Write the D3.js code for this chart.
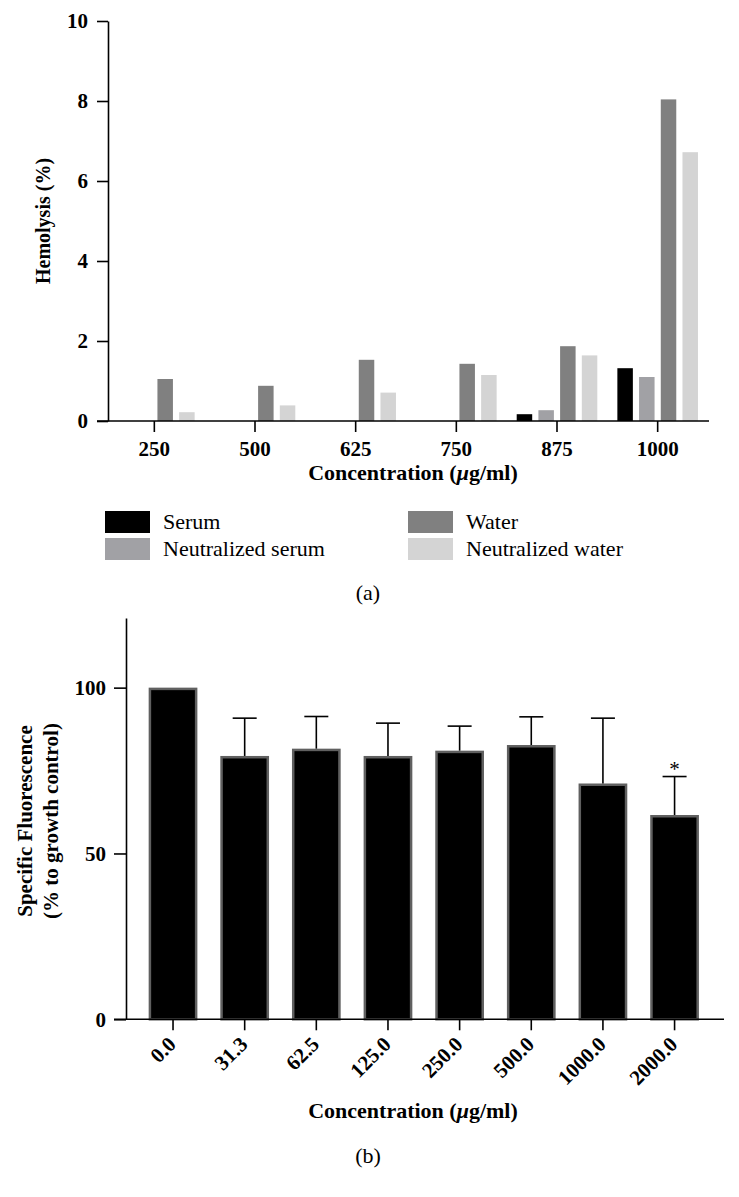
<!DOCTYPE html>
<html><head><meta charset="utf-8">
<script src="https://cdn.jsdelivr.net/npm/d3@7"></script>
<style>
body{margin:0;background:#fff;}
svg{display:block;}
text{font-family:"Liberation Serif","Times New Roman",serif;}
</style></head>
<body><svg id="c" width="739" height="1197"></svg>
<script>
// ---- Panel (a) data ----
const concA = ["250","500","625","750","875","1000"];
const seriesA = ["Serum","Neutralized serum","Water","Neutralized water"];
const serum = [0,0,0,0,0.17,1.32];
const neutralizedSerum = [0,0,0,0,0.27,1.10];
const water = [1.05,0.88,1.53,1.43,1.87,8.04];
const neutralizedWater = [0.22,0.39,0.71,1.15,1.64,6.72];
const colorsA = ["#000000","#a1a1a5","#808080","#d4d4d4"];
const ticksA = [0,2,4,6,8,10];

// ---- Panel (b) data ----
const concB = ["0.0","31.3","62.5","125.0","250.0","500.0","1000.0","2000.0"];
const meanB = [100,79.4,81.6,79.4,81.0,82.7,71.1,61.6];
const sdB = [0,11.4,9.7,9.9,7.4,8.5,19.7,11.6];
const sigB = ["","","","","","","","*"];
const ticksB = [0,50,100];

const svg = d3.select("#c");
const F = "Liberation Serif, Times New Roman, serif";

// ===== Panel A =====
(function(){
  const valsA = [serum, neutralizedSerum, water, neutralizedWater];
  const y = d3.scaleLinear().domain([0,10]).range([421,21]);
  const x = d3.scaleBand().domain(concA).range([104,708]).padding(0);
  const xs = d3.scaleBand().domain(seriesA).range([-40.3,40.3]).paddingInner(0.286).paddingOuter(0);
  const g = svg.append("g");
  concA.forEach((c,i)=>{
    const cx = x(c)+x.bandwidth()/2;
    seriesA.forEach((s,j)=>{
      const v = valsA[j][i];
      if(v<=0) return;
      g.append("rect").attr("x",cx+xs(s)).attr("width",xs.bandwidth())
        .attr("y",y(v)).attr("height",y(0)-y(v)).attr("fill",colorsA[j]);
    });
  });
  const ya = g.append("g").attr("transform","translate(108,0)")
    .call(d3.axisLeft(y).tickValues(ticksA).tickSize(11).tickPadding(9).tickSizeOuter(0));
  ya.select(".domain").attr("stroke","#000").attr("stroke-width",1.6);
  ya.selectAll(".tick line").attr("stroke-width",1.6);
  ya.selectAll("text").attr("font-family",F).attr("font-weight","bold").attr("font-size",21).attr("fill","#000");
  const xa = g.append("g").attr("transform","translate(0,421)")
    .call(d3.axisBottom(x).tickSize(11).tickPadding(9).tickSizeOuter(0));
  xa.select(".domain").attr("d","M97,0H709").attr("stroke-width",1.6);
  xa.selectAll(".tick line").attr("stroke-width",1.6);
  xa.selectAll("text").attr("font-family",F).attr("font-weight","bold").attr("font-size",21).attr("fill","#000");
  g.append("text").attr("transform","translate(50,221) rotate(-90)").attr("text-anchor","middle")
    .attr("font-weight","bold").attr("font-size",20).text("Hemolysis (%)");
  const t = g.append("text").attr("x",413).attr("y",480).attr("text-anchor","middle")
    .attr("font-weight","bold").attr("font-size",22);
  t.append("tspan").text("Concentration (");
  t.append("tspan").attr("font-style","italic").text("\u03bc");
  t.append("tspan").text("g/ml)");
  const lp = [[105,511],[105,538],[408,511],[408,538]];
  seriesA.forEach((s,j)=>{
    g.append("rect").attr("x",lp[j][0]).attr("y",lp[j][1]).attr("width",45).attr("height",22).attr("fill",colorsA[j]);
    g.append("text").attr("x",lp[j][0]+58).attr("y",lp[j][1]+18).attr("font-size",22).text(s);
  });
  g.append("text").attr("x",368).attr("y",600).attr("text-anchor","middle").attr("font-size",22).text("(a)");
})();

// ===== Panel B =====
(function(){
  const y = d3.scaleLinear().domain([0,121]).range([1019.3,618]);
  const x = d3.scaleBand().domain(concB).range([137.2,710.4]).paddingInner(0.32).paddingOuter(0.16);
  const g = svg.append("g");
  const bw = x.bandwidth();
  concB.forEach((c,i)=>{
    const bx = x(c), v = meanB[i];
    g.append("rect").attr("x",bx+1.25).attr("width",bw-2.5)
      .attr("y",y(v)+1.25).attr("height",y(0)-y(v)-1.25)
      .attr("fill","#000").attr("stroke","#606060").attr("stroke-width",2.5);
    if(sdB[i]>0){
      const cx = bx+bw/2;
      g.append("line").attr("x1",cx).attr("x2",cx).attr("y1",y(v)).attr("y2",y(v+sdB[i]))
        .attr("stroke","#000").attr("stroke-width",1.6);
      g.append("line").attr("x1",cx-12).attr("x2",cx+12).attr("y1",y(v+sdB[i])).attr("y2",y(v+sdB[i]))
        .attr("stroke","#000").attr("stroke-width",1.6);
      if(sigB[i]) g.append("text").attr("x",cx).attr("y",y(v+sdB[i])-1).attr("text-anchor","middle")
        .attr("font-size",21).text(sigB[i]);
    }
  });
  const ya = g.append("g").attr("transform","translate(126,0)")
    .call(d3.axisLeft(y).tickValues(ticksB).tickSize(12).tickPadding(8).tickSizeOuter(0));
  ya.select(".domain").attr("stroke-width",1.6);
  ya.selectAll(".tick line").attr("stroke-width",1.6);
  ya.selectAll("text").attr("font-family",F).attr("font-weight","bold").attr("font-size",21).attr("fill","#000");
  const xa = g.append("g").attr("transform","translate(0,1019.3)")
    .call(d3.axisBottom(x).tickSize(11).tickSizeOuter(0));
  xa.select(".domain").attr("d","M114,0H724").attr("stroke-width",1.6);
  xa.selectAll(".tick line").attr("stroke-width",1.6);
  xa.selectAll("text").attr("font-family",F).attr("font-weight","bold").attr("font-size",21).attr("fill","#000")
    .attr("text-anchor","end").attr("y",0).attr("dy","0.35em")
    .attr("transform","translate(-1,21) rotate(-45)");
  const yt = g.append("text").attr("transform","translate(0,821) rotate(-90)").attr("text-anchor","middle")
    .attr("font-weight","bold").attr("font-size",21);
  yt.append("tspan").attr("x",0).attr("y",32).text("Specific Fluorescence");
  yt.append("tspan").attr("x",0).attr("y",58).text("(% to growth control)");
  const t = g.append("text").attr("x",413).attr("y",1118).attr("text-anchor","middle")
    .attr("font-weight","bold").attr("font-size",22);
  t.append("tspan").text("Concentration (");
  t.append("tspan").attr("font-style","italic").text("\u03bc");
  t.append("tspan").text("g/ml)");
  g.append("text").attr("x",368).attr("y",1163).attr("text-anchor","middle").attr("font-size",22).text("(b)");
})();
</script></body></html>
